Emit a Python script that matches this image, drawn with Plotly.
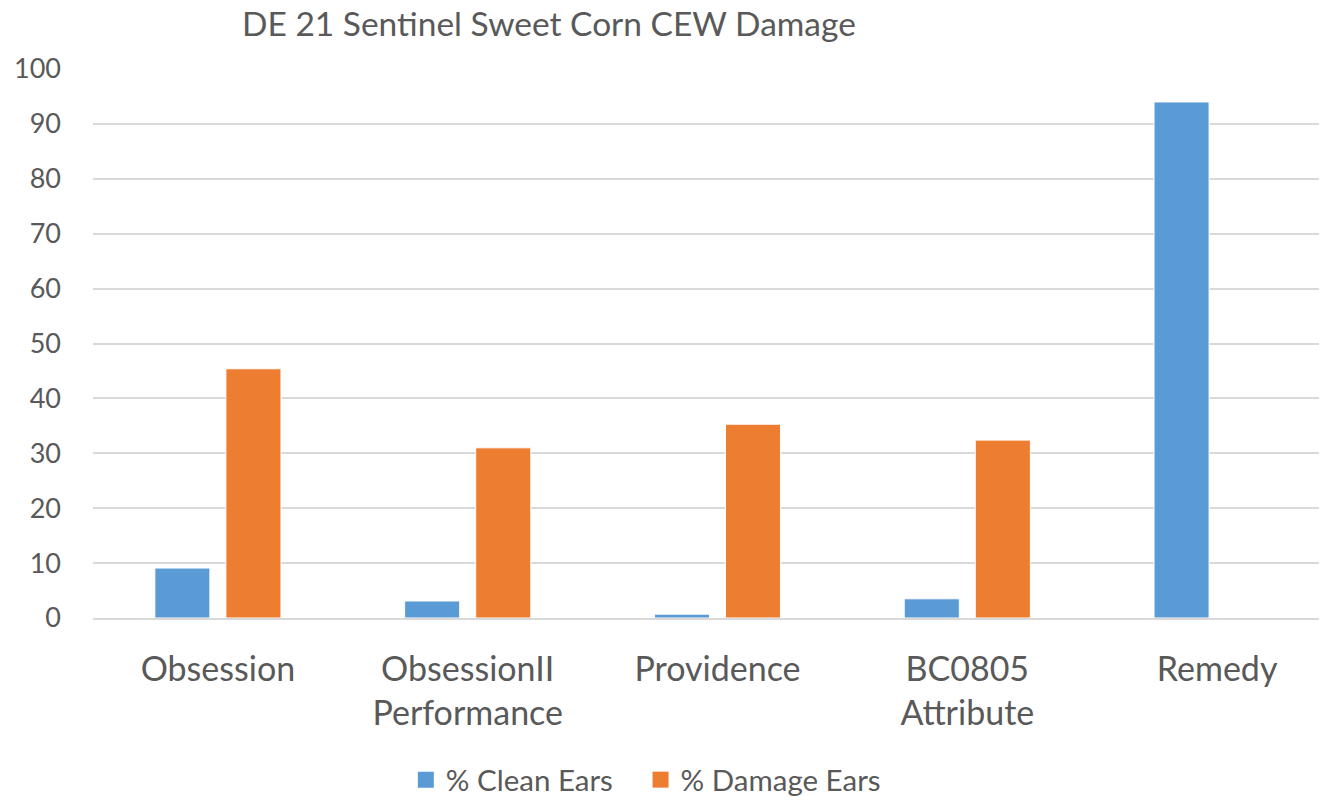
import plotly.graph_objects as go

categories = ["Obsession", "ObsessionII<br>Performance", "Providence", "BC0805<br>Attribute", "Remedy"]
clean_ears = [9.1, 3.1, 0.7, 3.5, 94.0]
damage_ears = [45.4, 31.0, 35.3, 32.4, 0]
y_ticks = [0, 10, 20, 30, 40, 50, 60, 70, 80, 90, 100]
series_names = ["% Clean Ears", "% Damage Ears"]
series_colors = ["#5B9BD5", "#ED7D31"]

FONT = "Lato, 'Open Sans', sans-serif"
TXT = "#595959"
PAD = "\u00a0\u00a0\u00a0"  # extra spacing between legend entries

fig = go.Figure()
for vals, name, col in zip([clean_ears, damage_ears], series_names, series_colors):
    fig.add_trace(go.Bar(x=categories, y=vals, name=name, showlegend=False,
                         marker=dict(color=col, line=dict(color="white", width=1))))
# legend-only entries with larger square symbols
for i, (name, col) in enumerate(zip(series_names, series_colors)):
    fig.add_trace(go.Scatter(x=[None], y=[None], mode="markers",
                             name=name + (PAD if i == 0 else ""),
                             marker=dict(symbol="square", size=20, color=col)))

fig.update_layout(
    width=1319, height=792,
    margin=dict(l=85, r=0, t=61, b=182, autoexpand=False),
    paper_bgcolor="white", plot_bgcolor="white",
    font=dict(family=FONT, color=TXT, size=27),
    barmode="group", bargap=0.431, bargroupgap=0.225,
    showlegend=True,
    legend=dict(orientation="h", x=0.448, xanchor="center", y=-0.295, yanchor="middle",
                font=dict(size=29.5, color=TXT), traceorder="normal", itemwidth=30,
                itemsizing="trace"),
    annotations=[dict(text="DE 21 Sentinel Sweet Corn CEW Damage", xref="paper", yref="paper",
                      x=0.3695, y=1, yshift=46, xanchor="center", yanchor="middle",
                      showarrow=False, font=dict(size=33.5, color=TXT))],
    yaxis=dict(range=[0, 100], tickvals=y_ticks, showgrid=True, gridcolor="#D9D9D9",
               gridwidth=1.5, zeroline=False, showline=False, ticks="",
               ticklabelstandoff=31, tickfont=dict(size=27, color=TXT), automargin=False),
    xaxis=dict(range=[-0.5, 4.44], showline=True, linecolor="#D9D9D9", linewidth=1.5, ticks="",
               tickfont=dict(size=34, color=TXT), ticklabelstandoff=20, automargin=False),
)
fig.write_html("out.html")
